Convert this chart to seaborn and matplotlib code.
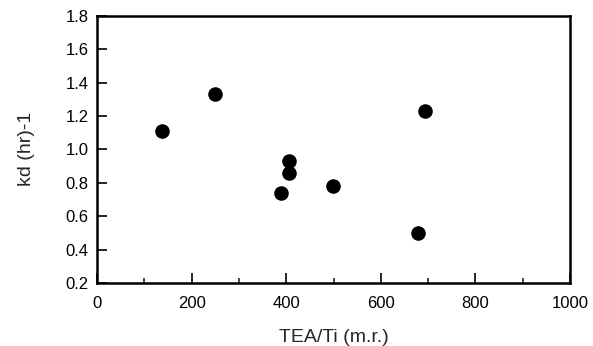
import matplotlib
matplotlib.use("Agg")
import matplotlib.pyplot as plt
from matplotlib.ticker import MultipleLocator, FormatStrFormatter
import seaborn as sns
import pandas as pd

# TEA/Ti molar ratio vs deactivation constant
tea_ti = [137, 250, 693, 405, 405, 390, 498, 678]
kd = [1.11, 1.33, 1.23, 0.93, 0.86, 0.74, 0.78, 0.50]

df = pd.DataFrame({"TEA/Ti (m.r.)": tea_ti, "kd (hr)-1": kd})

sns.set_style("white")
plt.rcParams["font.family"] = ["Liberation Sans", "DejaVu Sans"]

fig = plt.figure(figsize=(5.93, 3.46), dpi=100)
ax = fig.add_axes([97 / 593, 1 - 283 / 346, (570 - 97) / 593, (283 - 15.7) / 346])

sns.scatterplot(data=df, x="TEA/Ti (m.r.)", y="kd (hr)-1", ax=ax,
                color="black", s=110, edgecolor="black", linewidth=0, zorder=3)

ax.set_xlim(0, 1000)
ax.set_ylim(0.2, 1.8)
ax.xaxis.set_major_locator(MultipleLocator(200))
ax.xaxis.set_minor_locator(MultipleLocator(100))
ax.yaxis.set_major_locator(MultipleLocator(0.2))
ax.yaxis.set_major_formatter(FormatStrFormatter("%.1f"))

for sp in ax.spines.values():
    sp.set_visible(True)
    sp.set_color("black")
    sp.set_linewidth(1.8)

ax.tick_params(axis="both", which="major", direction="in", length=7, width=1.2,
               labelsize=12, colors="black")
ax.tick_params(axis="x", which="both", pad=9.5)
ax.tick_params(axis="y", which="both", pad=6)
ax.tick_params(axis="x", which="minor", direction="in", length=3.5, width=1.2, bottom=True)
ax.tick_params(axis="x", which="both", bottom=True, top=False)
ax.tick_params(axis="y", which="both", left=True, right=False)

ax.set_xlabel("TEA/Ti (m.r.)", fontsize=14, labelpad=13)
ax.set_ylabel("kd (hr)-1", fontsize=14, labelpad=22)

fig.savefig("out.png", dpi=100)
